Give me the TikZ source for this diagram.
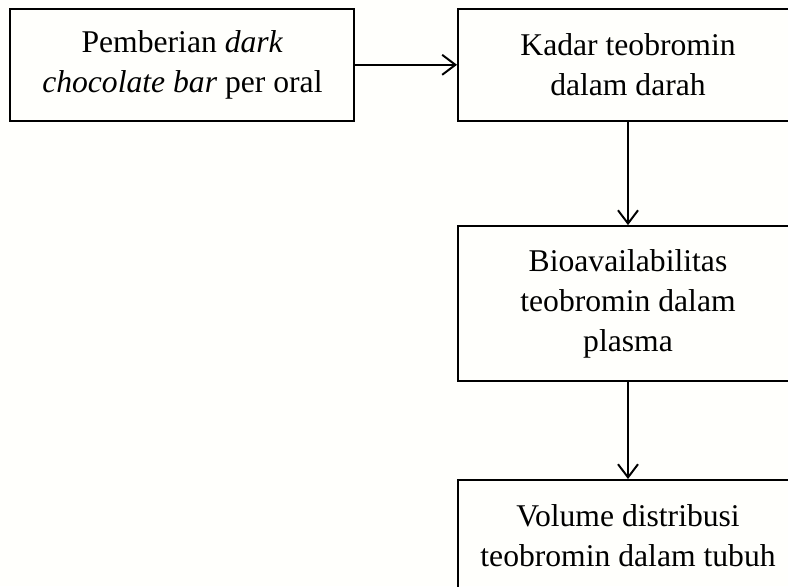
\documentclass[tikz,border=0pt]{standalone}
\usepackage{fontspec}
\setmainfont{Liberation Serif}
\usetikzlibrary{arrows.meta, positioning}

\begin{document}
\begin{tikzpicture}[
    box/.style={rectangle, draw, line width=1.4pt, align=center, inner sep=0pt, minimum width=8.5cm, minimum height=2.8cm, font=\fontsize{22.5}{28.5}\selectfont},
    arrow/.style={-{Straight Barb[length=3.3mm, width=5mm]}, line width=1.4pt}
]

\useasboundingbox (0, 0) rectangle (19.7, -14.65);
\fill[yellow!1] (0, 0) rectangle (19.7, -14.65);
\clip (0, 0) rectangle (19.7, -14.65);

\node[box, minimum width=8.6cm] (pemberian) at (4.56, -1.62) {Pemberian \textit{dark} \\ \textit{chocolate bar} per oral};
\node[box] (kadar)   at (15.7, -1.62)  {Kadar teobromin \\ dalam darah};
\node[box, minimum height=3.875cm] (bioav) at (15.7, -7.59) {Bioavailabilitas \\ teobromin dalam \\ plasma};
\node[box] (volume)  at (15.7, -13.4)  {Volume distribusi \\ teobromin dalam tubuh};

% Edges
\draw[arrow] (pemberian) -- (kadar);
\draw[arrow] (kadar) -- (bioav);
\draw[arrow] (bioav) -- (volume);

\end{tikzpicture}
\end{document}
